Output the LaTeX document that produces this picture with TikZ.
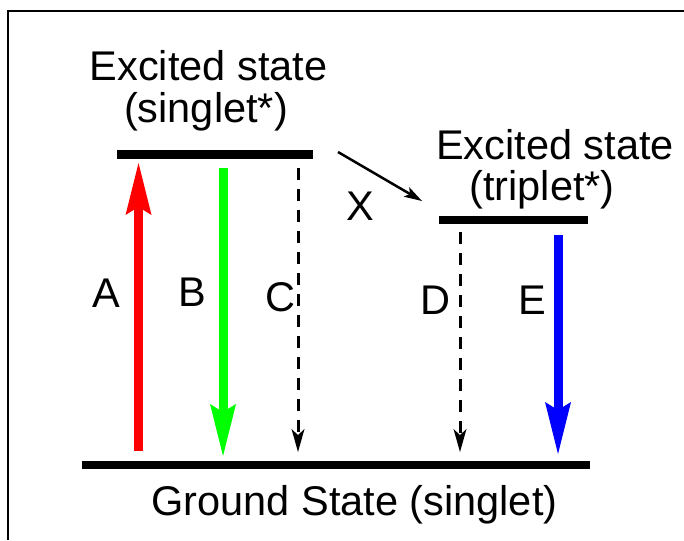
\documentclass[tikz,border=0pt]{standalone}
\usepackage{fontspec}
\setmainfont{Liberation Sans}
\usetikzlibrary{arrows.meta}
\definecolor{pured}{RGB}{255,0,0}
\definecolor{pugreen}{RGB}{0,255,0}
\definecolor{publue}{RGB}{0,0,255}
\begin{document}
\begin{tikzpicture}[x=1pt,y=-1pt,
  lbl/.style={font=\fontsize{41.5}{41.5}\selectfont, anchor=base, inner sep=0pt},
  levelline/.style={line width=8pt},
  bigarrow/.style={line width=9pt, -{Stealth[length=52pt,width=26pt,inset=8pt,line width=0pt]}},
  dasharrow/.style={line width=3pt, dash pattern=on 12pt off 9pt, -{Stealth[length=23pt,width=13pt,inset=6pt,line width=0pt]}},
  xarrow/.style={line width=2.5pt, -{Stealth[length=18pt,width=11pt,inset=4pt,line width=0pt]}}
]
\useasboundingbox (0,0) rectangle (684,540);
\draw[line width=2pt] (8,540) -- (8,11) -- (684,11);

% levels
\coordinate (sL) at (117,154.5);
\coordinate (sR) at (313,154.5);
\coordinate (tL) at (439,219.5);
\coordinate (tR) at (588,219.5);
\coordinate (gL) at (82,465);
\coordinate (gR) at (590,465);
\draw[levelline] (sL) -- (sR);
\draw[levelline] (tL) -- (tR);
\draw[levelline] (gL) -- (gR);

% arrows
\coordinate (a0) at (138.5,451);
\coordinate (a1) at (138.5,163);
\coordinate (b0) at (223,168);
\coordinate (b1) at (223,456);
\coordinate (c0) at (298,168);
\coordinate (c1) at (298,452);
\coordinate (d0) at (460,232);
\coordinate (d1) at (460,452);
\coordinate (e0) at (558,235);
\coordinate (e1) at (558,454);
\coordinate (x0) at (338,152);
\coordinate (x1) at (422,201);
\draw[bigarrow, pured] (a0) -- (a1);
\draw[bigarrow, pugreen] (b0) -- (b1);
\draw[bigarrow, publue] (e0) -- (e1);
\draw[dasharrow] (c0) -- (c1);
\draw[dasharrow] (d0) -- (d1);
\draw[xarrow] (x0) -- (x1);

% texts
\node[lbl] (s1) at (208.5,81) {Excited state};
\node[lbl] (s2) at (206,123) {(singlet*)};
\node[lbl] (t1) at (555,160) {Excited state};
\node[lbl] (t2) at (542,200) {(triplet*)};
\node[lbl] (g) at (354.5,515) {Ground State (singlet)};
\node[lbl] (la) at (106,307) {A};
\node[lbl] (lb) at (192,306) {B};
\node[lbl] (lc) at (280,311) {C};
\node[lbl] (ld) at (435,314) {D};
\node[lbl] (le) at (532,314) {E};
\node[lbl] (lx) at (360,220) {X};
\end{tikzpicture}
\end{document}
